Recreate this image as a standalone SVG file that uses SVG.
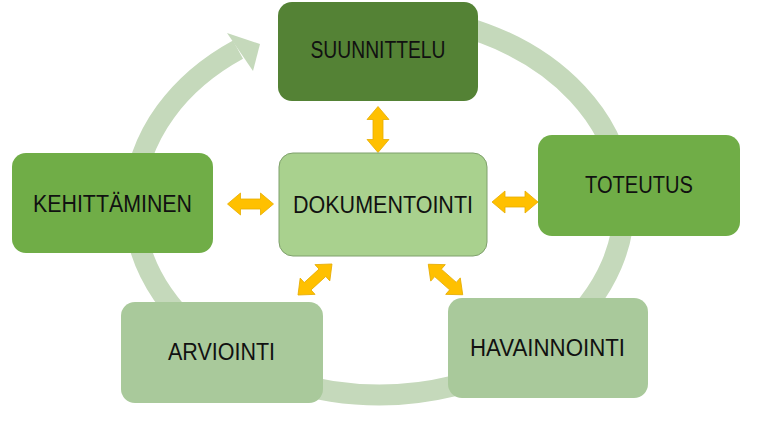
<svg xmlns="http://www.w3.org/2000/svg" width="762" height="429" viewBox="0 0 762 429">
<style>
.box{stroke:none}
.lbl{font-family:"Liberation Sans",Arial,sans-serif;font-size:23px;fill:#111;text-anchor:middle}
.dbl{fill:#ffc000;stroke:#e6ac00;stroke-width:0.8}
</style>
<defs>
<path id="darr" d="M-23,0 L-10,-11 L-10,-5 L10,-5 L10,-11 L23,0 L10,11 L10,5 L-10,5 L-10,11 Z"/>
</defs>
<rect width="762" height="429" fill="#ffffff"/>
<g id="cycle">
<path d="M379,15 A245,190 0 1 1 238,49.6" fill="none" stroke="#c5d9bb" stroke-width="21"/>
<polygon points="227,33 260,44 253,71" fill="#c5d9bb"/>
</g>
<g id="connectors">
<use href="#darr" class="dbl" transform="translate(378,129.5) rotate(90)"/>
<use href="#darr" class="dbl" transform="translate(250.5,204)"/>
<use href="#darr" class="dbl" transform="translate(515,202)"/>
<use href="#darr" class="dbl" transform="translate(315,279.5) rotate(-42.4)"/>
<use href="#darr" class="dbl" transform="translate(445.5,279.5) rotate(41.5)"/>
</g>
<g id="suunnittelu">
<rect class="box" x="278" y="2" width="200" height="99" rx="14" fill="#548235"/>
<text class="lbl" x="378" y="58" textLength="135" lengthAdjust="spacingAndGlyphs">SUUNNITTELU</text>
</g>
<g id="toteutus">
<rect class="box" x="538" y="135" width="202" height="101" rx="14" fill="#70ad47"/>
<text class="lbl" x="639" y="193" textLength="108" lengthAdjust="spacingAndGlyphs">TOTEUTUS</text>
</g>
<g id="kehittaminen">
<rect class="box" x="12" y="153" width="201" height="100" rx="14" fill="#70ad47"/>
<text class="lbl" x="112.5" y="212" textLength="159" lengthAdjust="spacingAndGlyphs">KEHITTÄMINEN</text>
</g>
<g id="dokumentointi">
<rect x="279" y="153" width="208" height="103" rx="14" fill="#a9d18e" stroke="#7fa06c" stroke-width="1"/>
<text class="lbl" x="383" y="213" textLength="180" lengthAdjust="spacingAndGlyphs">DOKUMENTOINTI</text>
</g>
<g id="arviointi">
<rect class="box" x="121" y="302" width="202" height="101" rx="14" fill="#a9c99b"/>
<text class="lbl" x="221.5" y="360" textLength="107" lengthAdjust="spacingAndGlyphs">ARVIOINTI</text>
</g>
<g id="havainnointi">
<rect class="box" x="448" y="298" width="200" height="100" rx="14" fill="#a9c99b"/>
<text class="lbl" x="547.5" y="356" textLength="155" lengthAdjust="spacingAndGlyphs">HAVAINNOINTI</text>
</g>
</svg>
